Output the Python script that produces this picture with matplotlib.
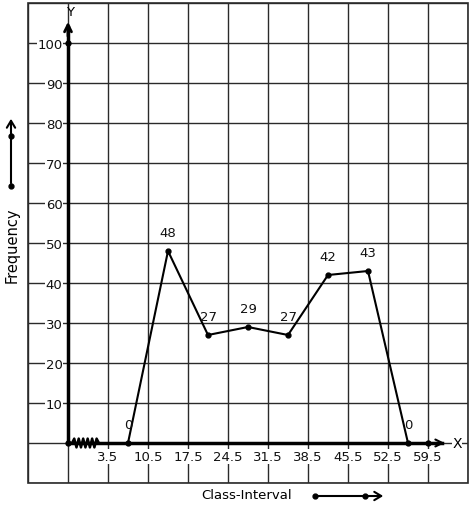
import matplotlib
matplotlib.use("Agg")
import matplotlib.pyplot as plt
import numpy as np

# Data
class_marks = [7, 14, 21, 28, 35, 42, 49, 56]
frequencies = [0, 48, 27, 29, 27, 42, 43, 0]
x_tick_labels = ["3.5", "10.5", "17.5", "24.5", "31.5", "38.5", "45.5", "52.5", "59.5"]
x_tick_values = [3.5, 10.5, 17.5, 24.5, 31.5, 38.5, 45.5, 52.5, 59.5]
y_tick_values = [10, 20, 30, 40, 50, 60, 70, 80, 90, 100]

W, H = 473, 510
FS = 9.5
fig = plt.figure(figsize=(W / 100, H / 100), dpi=100)
ax = fig.add_axes([28 / W, (H - 484) / H, 440 / W, 480 / H])

xmin, xmax = -10.5, 66.5
ymin, ymax = -10, 110
ax.set_xlim(xmin, xmax)
ax.set_ylim(ymin, ymax)

gc = "#2a2a2a"
for gx in np.arange(xmin, xmax + 0.1, 7):
    ax.axvline(gx, color=gc, lw=1, zorder=0.1)
for gy in np.arange(ymin, ymax + 0.1, 10):
    ax.axhline(gy, color=gc, lw=1, zorder=0.1)

origin_x = -3.5
for s in ["top", "right"]:
    ax.spines[s].set_visible(False)
ax.spines["left"].set_position(("data", origin_x))
ax.spines["bottom"].set_position(("data", 0))
ax.spines["left"].set_bounds(0, 104)
ax.spines["bottom"].set_bounds(origin_x, 62)
for s in ["left", "bottom"]:
    ax.spines[s].set_linewidth(2.5)
    ax.spines[s].set_color("black")

ax.set_xticks(x_tick_values)
ax.set_xticklabels(x_tick_labels)
ax.set_yticks(y_tick_values)
ax.set_yticklabels([str(v) for v in y_tick_values])
ax.tick_params(axis="both", length=0, labelsize=FS, colors="#111111")
ax.tick_params(axis="y", pad=4)
ax.tick_params(axis="x", pad=5)
for lab in ax.get_xticklabels() + ax.get_yticklabels():
    lab.set_bbox(dict(facecolor="white", edgecolor="none", pad=0.5))

# Outer border
ax.add_patch(plt.Rectangle((xmin, ymin), xmax - xmin, ymax - ymin, fill=False,
                           edgecolor=gc, lw=1.2, zorder=0.2, clip_on=False))

# Axis arrows
ax.annotate("", xy=(origin_x, 106), xytext=(origin_x, 101),
            arrowprops=dict(arrowstyle="->,head_length=0.5,head_width=0.25", lw=2, color="black"),
            zorder=4)
ax.annotate("", xy=(62.9, 0), xytext=(59, 0),
            arrowprops=dict(arrowstyle="->,head_length=0.5,head_width=0.25", lw=1.5, color="black"),
            zorder=4)
ax.text(origin_x + 0.3, 108, "Y", ha="center", va="center", fontsize=FS)
ax.text(64.6, 0, "X", ha="center", va="center", fontsize=FS + 0.5,
        bbox=dict(facecolor="white", edgecolor="none", pad=0.3))

# dots on axes
ax.plot([origin_x, origin_x, 59.5], [0, 100, 0], "o", color="black", ms=3.5, zorder=5, clip_on=False)

# zigzag break near origin
zz_x = np.linspace(-2.8, 1.9, 13)
zz_y = np.array([0, 1, -1, 1, -1, 1, -1, 1, -1, 1, -1, 1, 0]) * 1.1
ax.plot(zz_x, zz_y, color="black", lw=1.8, zorder=4)

# frequency polygon
ax.plot(class_marks, frequencies, "-o", color="black", lw=1.5, ms=3.5, zorder=5)
for xv, yv in zip(class_marks, frequencies):
    ax.annotate(str(yv), (xv, yv), xytext=(0, 13), textcoords="offset points",
                ha="center", va="center", fontsize=FS, color="#111111", zorder=6)

# Axis labels with arrows (figure coords)
def fx(px):
    return px / W

def fy(py):
    return 1 - py / H

fig.text(fx(247), fy(496), "Class-Interval", ha="center", va="center", fontsize=FS)
fig.text(fx(12), fy(245), "Frequency", ha="center", va="center", rotation=90, fontsize=10.5)

fig.add_artist(matplotlib.patches.FancyArrowPatch(
    (fx(315), fy(497)), (fx(386), fy(497)), transform=fig.transFigure,
    arrowstyle="->,head_length=5,head_width=3", lw=1.5, color="black"))
fig.add_artist(matplotlib.lines.Line2D([fx(315), fx(365)], [fy(497), fy(497)],
                                       transform=fig.transFigure, marker="o", ms=3.5,
                                       lw=0, color="black"))
fig.add_artist(matplotlib.patches.FancyArrowPatch(
    (fx(11), fy(187)), (fx(11), fy(117)), transform=fig.transFigure,
    arrowstyle="->,head_length=5,head_width=3", lw=1.5, color="black"))
fig.add_artist(matplotlib.lines.Line2D([fx(11), fx(11)], [fy(187), fy(137)],
                                       transform=fig.transFigure, marker="o", ms=3.5,
                                       lw=0, color="black"))

fig.savefig("out.png", dpi=100, facecolor="white")
